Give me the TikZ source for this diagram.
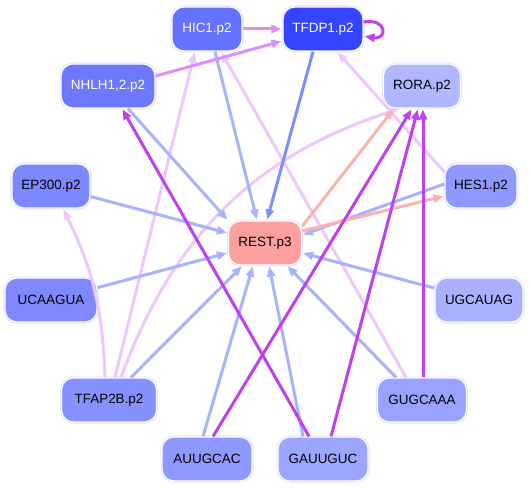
\documentclass[tikz,border=0pt]{standalone}
\usepackage{fontspec}
\setmainfont{Liberation Sans}
\usetikzlibrary{arrows.meta}
\definecolor{cHIC}{RGB}{100,114,255}
\definecolor{cTFDP}{RGB}{52,68,255}
\definecolor{cNHLH}{RGB}{110,120,255}
\definecolor{cRORA}{RGB}{176,182,255}
\definecolor{cEP}{RGB}{125,135,255}
\definecolor{cHES}{RGB}{143,152,255}
\definecolor{cREST}{RGB}{255,160,160}
\definecolor{cUCA}{RGB}{127,136,255}
\definecolor{cUGC}{RGB}{168,176,255}
\definecolor{cTFAP}{RGB}{135,144,255}
\definecolor{cGUG}{RGB}{154,162,255}
\definecolor{cAUU}{RGB}{142,152,255}
\definecolor{cGAU}{RGB}{156,166,255}
\definecolor{rim}{RGB}{222,226,255}
\definecolor{eBlue}{RGB}{168,178,255}
\definecolor{eBlueD}{RGB}{125,143,255}
\definecolor{eLight}{RGB}{236,200,255}
\definecolor{ePurp}{RGB}{190,64,240}
\definecolor{eVio}{RGB}{222,140,255}
\definecolor{eSalm}{RGB}{255,176,176}
\tikzset{
  nd/.style={rounded corners=12bp, minimum height=44bp, inner sep=0pt,
    font=\fontsize{13.5}{15}\selectfont, draw=white, line width=1.2bp,
    preaction={draw=rim, line width=3bp}},
  e/.style={line width=3bp, -{Triangle[length=10bp,width=8bp]}, shorten >=1bp},
}
\begin{document}
\begin{tikzpicture}[x=1bp,y=-1bp]
\useasboundingbox (0,0) rectangle (531,489);
\node[nd, fill=cHIC, text=white, minimum width=70bp] (hic) at (207,29) {HIC1.p2};
\node[nd, fill=cTFDP, text=white, minimum width=80bp] (tfdp) at (323,29) {TFDP1.p2};
\node[nd, fill=cNHLH, text=white, minimum width=94bp] (nhlh) at (108,86) {NHLH1,2.p2};
\node[nd, fill=cRORA, minimum width=77bp] (rora) at (422,86) {RORA.p2};
\node[nd, fill=cEP, minimum width=78bp] (ep) at (51,186) {EP300.p2};
\node[nd, fill=cHES, minimum width=72bp] (hes) at (481,186) {HES1.p2};
\node[nd, fill=cREST, minimum width=73bp] (rest) at (265,243) {REST.p3};
\node[nd, fill=cUCA, minimum width=92bp] (uca) at (51,300) {UCAAGUA};
\node[nd, fill=cUGC, minimum width=88bp] (ugc) at (479,300) {UGCAUAG};
\node[nd, fill=cTFAP, minimum width=95bp] (tfap) at (109,400) {TFAP2B.p2};
\node[nd, fill=cGUG, minimum width=89bp] (gug) at (422,400) {GUGCAAA};
\node[nd, fill=cAUU, minimum width=90bp] (auu) at (207,459) {AUUGCAC};
\node[nd, fill=cGAU, minimum width=90bp] (gau) at (323,459) {GAUUGUC};

% light violet edges
\draw[e, eLight] ([xshift=6bp]tfap.north) -- ([xshift=-12bp]hic.south);
\draw[e, eLight] ([xshift=-16bp]gug.north) -- ([xshift=14bp]hic.south);
\draw[e, eLight] ([xshift=-4bp]tfap.north) to[bend right=12] ([xshift=12bp]ep.south);
\draw[e, eLight] ([xshift=12bp]tfap.north) to[bend left=26] ([xshift=-22bp]rora.south);
\draw[e, eLight] ([yshift=14bp]hes.west) -- ([xshift=14bp]tfdp.south);
% blue edges into REST
\draw[e, eBlue] ([xshift=8bp]hic.south) -- ([xshift=-8bp]rest.north);
\draw[e, eBlueD] ([xshift=-10bp]tfdp.south) -- ([xshift=2bp]rest.north);
\draw[e, eBlue] ([xshift=20bp]nhlh.south) -- (rest.north west);
\draw[e, eBlue] (ep) -- (rest);
\draw[e, eBlue] ([yshift=2bp]hes.west) -- ([yshift=8bp]rest.east);
\draw[e, eBlue] (uca) -- (rest);
\draw[e, eBlue] (ugc) -- (rest);
\draw[e, eBlue] ([xshift=22bp]tfap.north) -- (rest);
\draw[e, eBlue] ([xshift=-26bp]gug.north) -- (rest);
\draw[e, eBlue] ([xshift=-4bp]auu.north) -- ([xshift=-12bp]rest.south);
\draw[e, eBlue] ([xshift=-20bp]gau.north) -- ([xshift=4bp]rest.south);
% salmon
\draw[e, eSalm] ([yshift=-6bp]rest.north east) -- ([xshift=-28bp]rora.south);
\draw[e, eSalm] ([yshift=12bp]rest.east) -- ([yshift=-10bp]hes.west);
% purple
\draw[e, ePurp] ([xshift=-14bp]gau.north) -- ([xshift=14bp]nhlh.south);
\draw[e, ePurp] ([xshift=6bp]auu.north) -- ([xshift=-10bp]rora.south);
\draw[e, ePurp] ([xshift=8bp]gau.north) -- ([xshift=-4bp]rora.south);
\draw[e, ePurp] ([xshift=1bp]gug.north) -- ([xshift=1bp]rora.south);
% violet
\draw[e, eVio] (hic) -- (tfdp);
\draw[e, eVio] ([yshift=10bp]nhlh.east) -- ([yshift=-12bp]tfdp.west);
\draw[e, ePurp] ([yshift=7bp]tfdp.east) .. controls +(24bp,4bp) and +(24bp,-4bp) .. ([yshift=-7bp]tfdp.east);
\end{tikzpicture}
\end{document}
